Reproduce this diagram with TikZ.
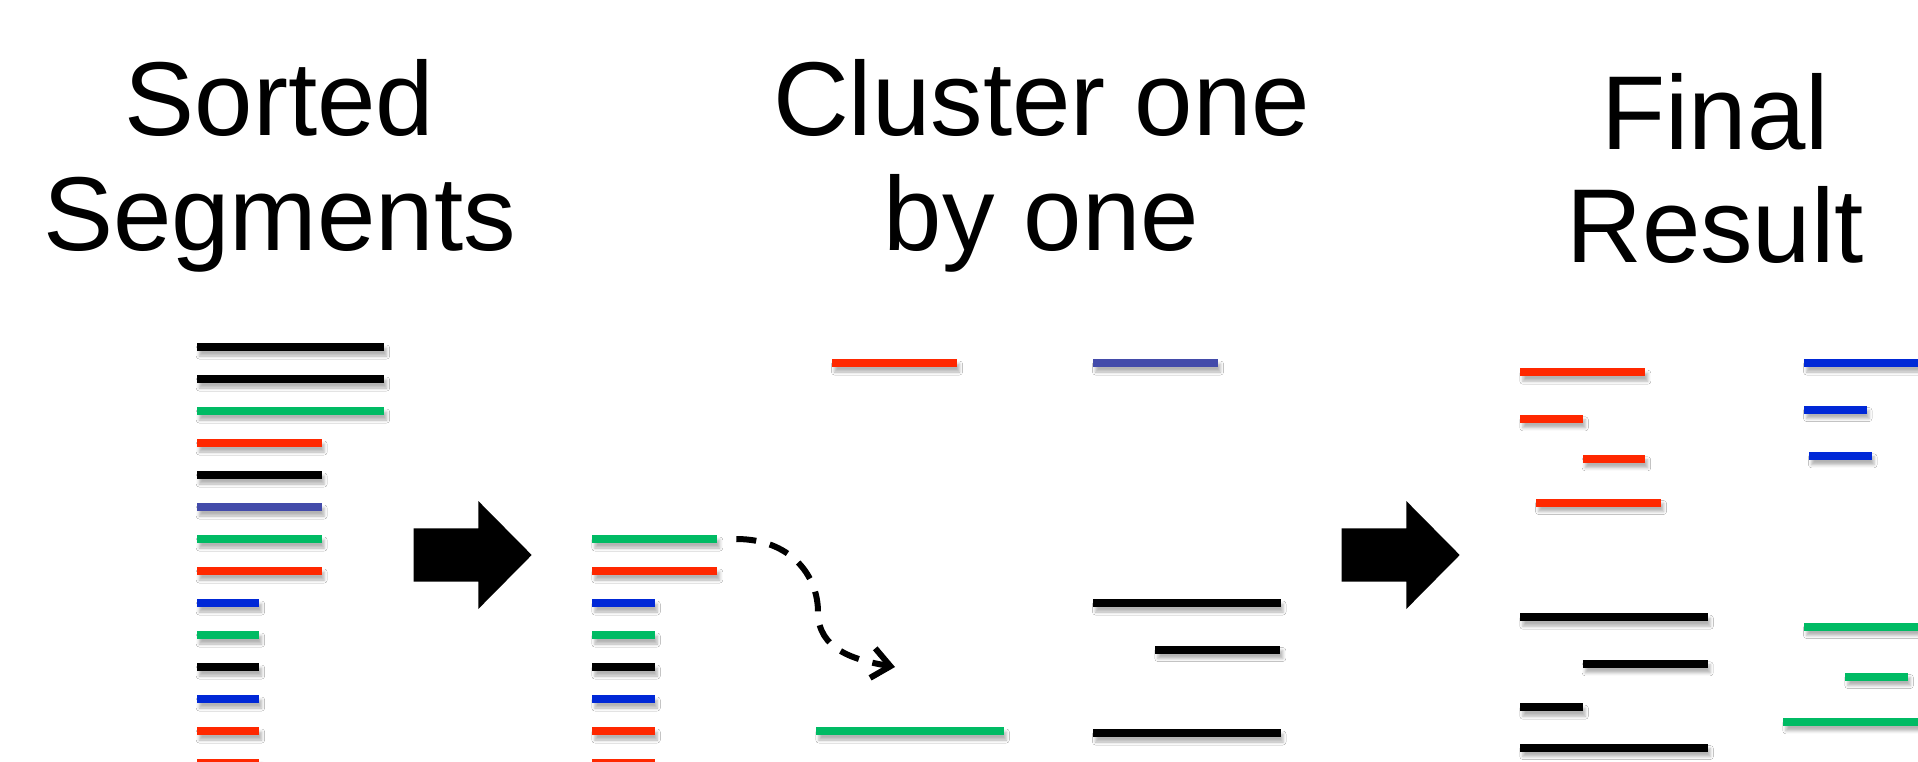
\documentclass[tikz,border=0pt]{standalone}
\usepackage{fontspec}
\setmainfont{Liberation Sans}
\usetikzlibrary{shadows.blur,arrows.meta}

\definecolor{segred}{RGB}{255,40,0}
\definecolor{seggreen}{RGB}{0,187,100}
\definecolor{segblue}{RGB}{0,40,215}
\definecolor{segviolet}{RGB}{67,75,170}
\definecolor{segblack}{RGB}{0,0,0}

\tikzset{
  seg/.style={anchor=west, inner sep=0pt, outer sep=0pt, minimum height=8pt,
    draw=none, fill=#1,
    blur shadow={shadow xshift=2.5pt, shadow yshift=-5pt,
      shadow blur radius=3pt, shadow opacity=30}},
  title/.style={anchor=base, inner sep=0pt, font=\fontsize{105}{114}\selectfont},
  bigarrow/.style={fill=black},
  flow/.style={line width=6pt, dash pattern=on 20pt off 14pt,
    -{Straight Barb[length=18pt,width=30pt]}}
}
% \segbar{name}{colour}{x}{y}{length}
\newcommand\segbar[5]{\node[seg=#2, minimum width=#5pt] (#1) at (#3,#4) {};}

\begin{document}
\begin{tikzpicture}[x=1pt,y=-1pt]
\useasboundingbox (0,0) rectangle (1918,761);
\fill[white] (0,0) rectangle (1918,761);

% titles
\node[title] (t1a) at (279.5,135.7) {Sorted};
\node[title] (t1b) at (279.5,250) {Segments};
\node[title] (t2a) at (1041.5,135.7) {Cluster one};
\node[title] (t2b) at (1041.5,250) {by one};
\node[title] (t3a) at (1715,149) {Final};
\node[title] (t3b) at (1715,262.7) {Result};

% sorted list of segments
\segbar{s1}{segblack}{196.7}{347}{187.5}
\segbar{s2}{segblack}{196.7}{379}{187.5}
\segbar{s3}{seggreen}{196.7}{411}{187.5}
\segbar{s4}{segred}{196.7}{443}{125}
\segbar{s5}{segblack}{196.7}{475}{125}
\segbar{s6}{segviolet}{196.7}{507}{125}
\segbar{s7}{seggreen}{196.7}{539}{125}
\segbar{s8}{segred}{196.7}{571}{125}
\segbar{s9}{segblue}{196.7}{603}{62.5}
\segbar{s10}{seggreen}{196.7}{635}{62.5}
\segbar{s11}{segblack}{196.7}{667}{62.5}
\segbar{s12}{segblue}{196.7}{699}{62.5}
\segbar{s13}{segred}{196.7}{731}{62.5}
\segbar{s14}{segred}{196.7}{763}{62.5}

% block arrows
\fill[bigarrow] (413.7,528.3) -- (478.3,528.3) -- (478.3,501) -- (531.7,555)
  -- (478.3,609) -- (478.3,581.7) -- (413.7,581.7) -- cycle;
\fill[bigarrow] (1341.7,528.3) -- (1406.3,528.3) -- (1406.3,501) -- (1459.7,555)
  -- (1406.3,609) -- (1406.3,581.7) -- (1341.7,581.7) -- cycle;

% remaining segments, still to be clustered
\segbar{m1}{seggreen}{592.3}{539}{125}
\segbar{m2}{segred}{592.3}{571}{125}
\segbar{m3}{segblue}{592.3}{603}{62.5}
\segbar{m4}{seggreen}{592.3}{635}{62.5}
\segbar{m5}{segblack}{592.3}{667}{62.5}
\segbar{m6}{segblue}{592.3}{699}{62.5}
\segbar{m7}{segred}{592.3}{731}{62.5}
\segbar{m8}{segred}{592.3}{763}{62.5}

% clusters built so far
\segbar{c1}{segred}{832}{363}{125}
\segbar{c2}{segviolet}{1093}{363}{125}
\segbar{c3}{segblack}{1093}{603}{187.5}
\segbar{c4}{segblack}{1155.3}{649.5}{125}
\segbar{c5}{segblack}{1093}{733}{187.5}
\segbar{c6}{seggreen}{816.3}{731}{187.5}

% next segment moves into a cluster
\coordinate (tgt) at (895,667);
\draw[flow] ([xshift=19pt]m1.east) .. controls (790,539) and (818,575) .. (818,612)
  .. controls (818,650) and (855,660) .. (tgt);

% final clusters
\segbar{r1}{segred}{1520.3}{372.2}{125}
\segbar{r2}{segred}{1520.3}{418.8}{62.5}
\segbar{r3}{segred}{1582.7}{458.8}{62.5}
\segbar{r4}{segred}{1536}{502.5}{125}
\segbar{k1}{segblack}{1520.3}{617.2}{187.5}
\segbar{k2}{segblack}{1582.7}{663.8}{125}
\segbar{k3}{segblack}{1520.3}{707.2}{62.5}
\segbar{k4}{segblack}{1520.3}{747.5}{187.5}
\segbar{b1}{segblue}{1804}{363}{187.5}
\segbar{b2}{segblue}{1804}{409.5}{62.5}
\segbar{b3}{segblue}{1809}{455.8}{62.5}
\segbar{g1}{seggreen}{1804}{626.5}{187.5}
\segbar{g2}{seggreen}{1845.3}{676.5}{62.5}
\segbar{g3}{seggreen}{1783.3}{721.8}{187.5}
\end{tikzpicture}
\end{document}
